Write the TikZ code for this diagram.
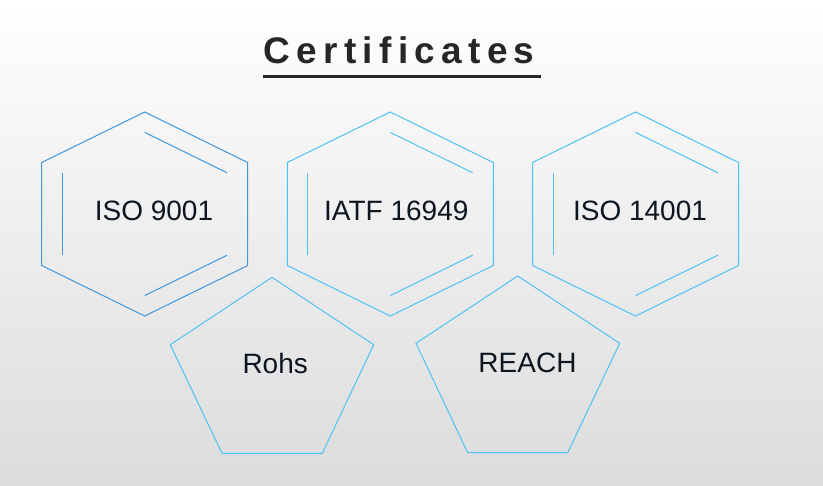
\documentclass[tikz,border=0pt]{standalone}
\usepackage{fontspec}
\setmainfont{Liberation Sans}
\usetikzlibrary{calc}
\definecolor{hexA}{HTML}{3E97E0}
\definecolor{hexB}{HTML}{4CC3F5}
\definecolor{titlec}{HTML}{262626}
\definecolor{textc}{HTML}{0D1620}
\definecolor{bgbot}{HTML}{DCDCDC}
\tikzset{
  outline/.style={line width=1pt},
  label/.style={text=textc, font=\fontsize{28}{32}\selectfont, inner sep=0pt, anchor=base},
  hexa/.pic={
    \draw[outline] (0,-102) -- (103,-51.5) -- (103,51.5) -- (0,102) -- (-103,51.5) -- (-103,-51.5) -- cycle;
    \draw[outline] (-82.4,-41.2) -- (-82.4,41.2);
    \draw[outline] (0,-81.6) -- (82.4,-41.2);
    \draw[outline] (82.4,41.2) -- (0,81.6);
  }
}
\newcommand{\lsp}{\kern6.3pt}
\begin{document}
\begin{tikzpicture}[x=1pt,y=-1pt]
\useasboundingbox (0,0) rectangle (823,486);
\shade[top color=white, bottom color=bgbot] (0,0) rectangle (823,486);
% title
\node[text=titlec, font=\bfseries\fontsize{37}{40}\selectfont, inner sep=0pt, anchor=base west] (title) at (263.5,63.3)
  {C\lsp e\lsp r\lsp t\lsp i\lsp f\lsp i\lsp c\lsp a\lsp t\lsp e\lsp s};
\coordinate (ul1) at (263.3,76.7);
\coordinate (ul2) at (540.7,76.7);
\draw[titlec, line width=2.4pt] (ul1) -- (ul2);
% hexagons
\coordinate (h1) at (144.7,214);
\coordinate (h2) at (390.3,214);
\coordinate (h3) at (635.5,214);
\pic[color=hexA] at (h1) {hexa};
\pic[color=hexB] at (h2) {hexa};
\pic[color=hexB] at (h3) {hexa};
\node[label] (iso9001) at (154,220.7) {ISO 9001};
\node[label] (iatf) at (396.3,220.7) {IATF 16949};
\node[label] (iso14001) at (640,220.7) {ISO 14001};
% pentagons
\coordinate (p1a) at (272,277.3);
\coordinate (p1b) at (373.7,344.7);
\coordinate (p1c) at (322.3,453.3);
\coordinate (p1d) at (222,453.3);
\coordinate (p1e) at (170.3,344.7);
\draw[hexB, outline] (p1a) -- (p1b) -- (p1c) -- (p1d) -- (p1e) -- cycle;
\coordinate (p2a) at (517.7,276);
\coordinate (p2b) at (619.7,343.3);
\coordinate (p2c) at (567.7,452.7);
\coordinate (p2d) at (467.7,452.7);
\coordinate (p2e) at (416,343.3);
\draw[hexB, outline] (p2a) -- (p2b) -- (p2c) -- (p2d) -- (p2e) -- cycle;
\node[label] (rohs) at (275.2,373.3) {Rohs};
\node[label] (reach) at (527.5,372.3) {REACH};
\end{tikzpicture}
\end{document}
